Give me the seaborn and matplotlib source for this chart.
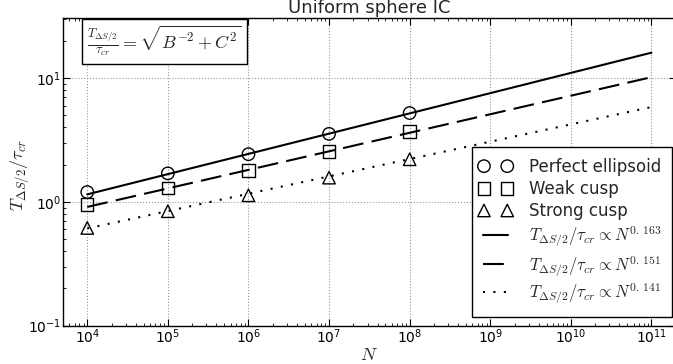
import numpy as np
import pandas as pd
import matplotlib
matplotlib.use("Agg")
import matplotlib.pyplot as plt
import seaborn as sns
from matplotlib.collections import PathCollection
from matplotlib.legend_handler import HandlerPathCollection

# measured points
N = [1e4, 1e5, 1e6, 1e7, 1e8]
perfect = [1.20, 1.70, 2.43, 3.55, 5.23]
weak = [0.95, 1.29, 1.79, 2.55, 3.71]
strong = [0.615, 0.84, 1.13, 1.57, 2.21]

# power-law fits, endpoints
fit_N = [1e4, 1e11]
fit_perfect = [1.15, 16.1]
fit_weak = [0.91, 10.2]
fit_strong = [0.61, 5.85]
exponents = [r"0.\,163", r"0.\,151", r"0.\,141"]

sns.set_style("white")
plt.rcParams["font.family"] = ["DejaVu Sans"]
plt.rcParams["mathtext.fontset"] = "cm"

fig = plt.figure(figsize=(6.73, 3.64), dpi=100)
ax = fig.add_axes([63 / 673, 1 - 325.5 / 364, 612.7 / 673, 308 / 364])
ax.set_xscale("log")
ax.set_yscale("log")

marker_kw = dict(s=80, facecolor="none", edgecolor="black", linewidth=1.0, zorder=3, ax=ax)
sns.scatterplot(x=N, y=perfect, marker="o", label="Perfect ellipsoid", **marker_kw)
sns.scatterplot(x=N, y=weak, marker="s", label="Weak cusp", **marker_kw)
sns.scatterplot(x=N, y=strong, marker="^", label="Strong cusp", **marker_kw)

fit_label = r"$T_{\Delta S/2}/\tau_{cr} \propto N^{%s}$"
sns.lineplot(x=fit_N, y=fit_perfect, color="black", lw=1.5, linestyle="-",
             label=fit_label % exponents[0], ax=ax)
sns.lineplot(x=fit_N, y=fit_weak, color="black", lw=1.5, linestyle=(0, (10, 4)),
             label=fit_label % exponents[1], ax=ax)
sns.lineplot(x=fit_N, y=fit_strong, color="black", lw=1.5, linestyle=(0, (1, 4)),
             label=fit_label % exponents[2], ax=ax)

ax.set_xlim(5e3, 2e11)
ax.set_ylim(0.1, 31)
ax.grid(True, which="major", linestyle=":", color="#999999", linewidth=0.8)
ax.tick_params(which="both", direction="in", bottom=True, top=True, left=True,
               right=True, colors="black", labelsize=10)
ax.tick_params(which="major", length=5, width=0.8, pad=1.5)
ax.tick_params(which="minor", length=2.5, width=0.6)
for sp in ax.spines.values():
    sp.set_color("black")
    sp.set_linewidth(1.0)

ax.set_title("Uniform sphere IC", fontsize=13, pad=1.5)
ax.set_xlabel(r"$N$", fontsize=13, labelpad=0)
ax.set_ylabel(r"$T_{\Delta S/2}/\tau_{cr}$", fontsize=13)
ax.yaxis.set_label_coords(-0.052, 0.49)

ax.text(0.0397, 0.978, r"$\frac{T_{\Delta S/2}}{\tau_{cr}} = \sqrt{B^{-2}+C^2}$",
        transform=ax.transAxes, ha="left", va="top", fontsize=13,
        bbox=dict(boxstyle="square,pad=0.3", fc="white", ec="black", lw=1.0))

handles, labels = ax.get_legend_handles_labels()
leg = ax.legend(handles, labels, loc="lower right", bbox_to_anchor=(0.994, 0.0286),
                borderaxespad=0, scatterpoints=2, scatteryoffsets=[0.5], fontsize=12,
                frameon=True, fancybox=False, edgecolor="black", framealpha=1,
                handlelength=1.5, handletextpad=1.25, borderpad=0.65, labelspacing=0.25,
                handler_map={PathCollection: HandlerPathCollection(marker_pad=0.05)})
leg.get_frame().set_linewidth(1.0)

fig.savefig("out.png", dpi=100)
